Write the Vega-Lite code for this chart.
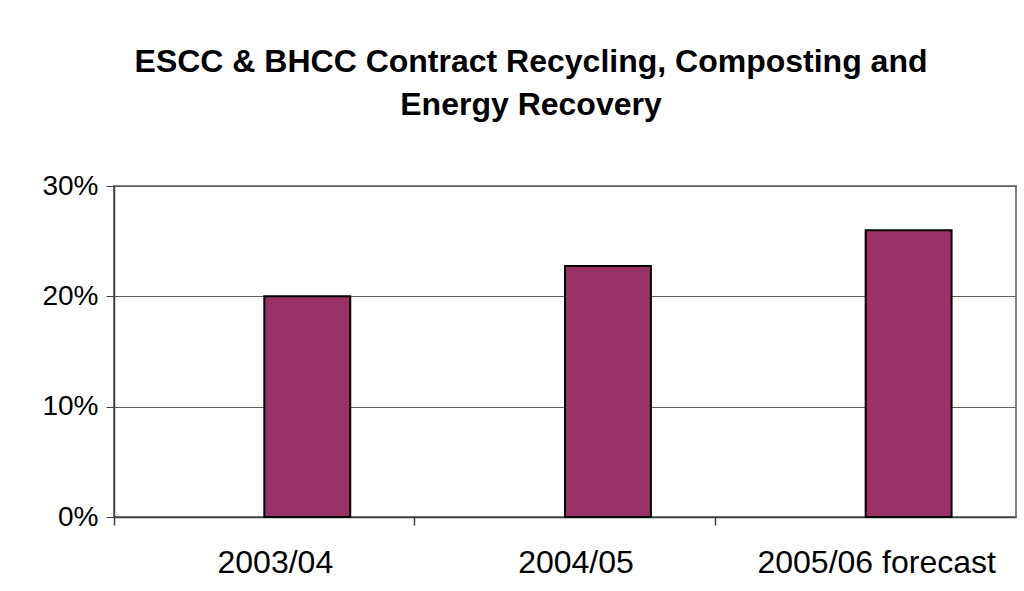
{
  "$schema": "https://vega.github.io/schema/vega-lite/v6.json",
  "autosize": "none",
  "width": 902,
  "height": 331,
  "padding": {"left": 114, "top": 186, "right": 8, "bottom": 74},
  "background": "white",
  "config": {
    "font": "Liberation Sans",
    "view": {"stroke": "#808080", "strokeWidth": 2}
  },
  "title": {
    "text": ["ESCC & BHCC Contract Recycling, Composting and", "Energy Recovery"],
    "font": "Liberation Sans",
    "fontSize": 32,
    "fontWeight": "bold",
    "color": "black",
    "anchor": "middle",
    "lineHeight": 43,
    "dx": -34,
    "offset": 50
  },
  "data": {
    "values": [
      {"year": "2003/04", "series": "B", "value": 0.20},
      {"year": "2004/05", "series": "B", "value": 0.2275},
      {"year": "2005/06 forecast", "series": "B", "value": 0.26}
    ]
  },
  "layer": [
    {
      "mark": {"type": "bar", "fill": "#993366", "stroke": "black", "strokeWidth": 2},
      "encoding": {
        "x": {
          "field": "year", "type": "nominal", "sort": null,
          "scale": {"paddingInner": 0, "paddingOuter": 0},
          "axis": {
            "title": null, "labelAngle": 0, "labelFontSize": 32, "labelColor": "black",
            "labelPadding": 30, "labelOffset": 11, "labelLimit": 0, "ticks": false, "domain": false, "grid": false
          }
        },
        "xOffset": {
          "field": "series", "type": "nominal",
          "scale": {"domain": ["A", "B"], "paddingInner": 0, "paddingOuter": 0.75}
        },
        "y": {
          "field": "value", "type": "quantitative",
          "scale": {"domain": [0, 0.3]},
          "axis": {
            "title": null, "format": ".0%", "values": [0, 0.1, 0.2, 0.3],
            "labelFontSize": 28, "labelColor": "black", "labelPadding": 8,
            "tickSize": 8, "tickColor": "#404040", "domainColor": "#404040", "domainWidth": 1.5,
            "gridColor": "#606060", "gridWidth": 1.2
          }
        }
      }
    },
    {
      "mark": {"type": "rule", "opacity": 0},
      "encoding": {
        "x": {
          "field": "year", "type": "nominal", "sort": null,
          "axis": {
            "orient": "bottom", "title": null, "labels": false, "bandPosition": 0,
            "tickSize": 8, "tickColor": "#404040", "tickWidth": 1.5,
            "domainColor": "#404040", "domainWidth": 1.5, "grid": false
          }
        }
      }
    }
  ],
  "resolve": {"axis": {"x": "independent"}}
}
